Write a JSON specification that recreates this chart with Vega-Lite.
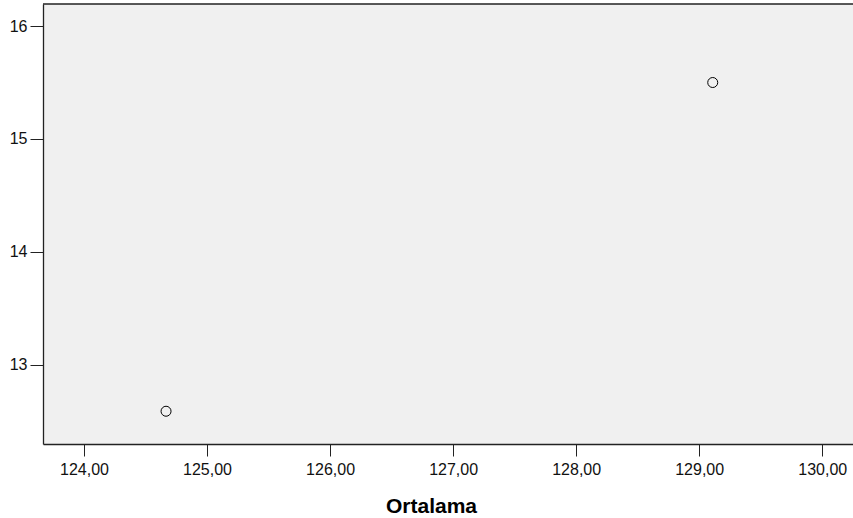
{
  "$schema": "https://vega.github.io/schema/vega-lite/v6.json",
  "autosize": {"type": "none"},
  "width": 810,
  "height": 440,
  "padding": {"left": 43, "top": 4, "right": 0, "bottom": 74},
  "background": "white",
  "config": {
    "view": {"fill": "#f0f0f0", "stroke": null},
    "font": "Liberation Sans"
  },
  "data": {
    "values": [
      {"Ortalama": 124.667, "Deger": 12.59},
      {"Ortalama": 129.11, "Deger": 15.50}
    ]
  },
  "layer": [
    {
      "mark": {"type": "rule", "color": "#222", "strokeWidth": 1.3},
      "data": {"values": [{"a": 1}]},
      "encoding": {"y": {"datum": 16.195, "type": "quantitative"}}
    },
    {
      "mark": {"type": "point", "shape": "circle", "filled": false, "color": "#000", "size": 100, "strokeWidth": 1, "opacity": 1},
      "encoding": {
        "x": {
          "field": "Ortalama", "type": "quantitative",
          "scale": {"domain": [123.667, 130.25], "nice": false, "zero": false},
          "axis": {
            "title": "Ortalama",
            "values": [124, 125, 126, 127, 128, 129, 130],
            "labelExpr": "replace(format(datum.value, '.2f'), '.', ',')",
            "grid": false,
            "domainColor": "#222", "domainWidth": 1.3,
            "tickColor": "#222", "tickSize": 12, "tickWidth": 1,
            "labelFontSize": 16, "labelColor": "#111", "labelPadding": 5,
            "labelFont": "Liberation Sans",
            "titleFont": "Liberation Sans", "titleFontSize": 21, "titleFontWeight": "bold", "titleColor": "#000",
            "titleX": 388, "titleY": 68, "titleBaseline": "alphabetic", "titleAnchor": null
          }
        },
        "y": {
          "field": "Deger", "type": "quantitative",
          "scale": {"domain": [12.30, 16.195], "nice": false, "zero": false},
          "axis": {
            "title": null,
            "values": [13, 14, 15, 16],
            "labelExpr": "format(datum.value, 'd')",
            "grid": false,
            "domainColor": "#222", "domainWidth": 1.3,
            "tickColor": "#222", "tickSize": 13, "tickWidth": 1,
            "labelFontSize": 16, "labelColor": "#111", "labelPadding": 3,
            "labelFont": "Liberation Sans"
          }
        }
      }
    }
  ]
}
